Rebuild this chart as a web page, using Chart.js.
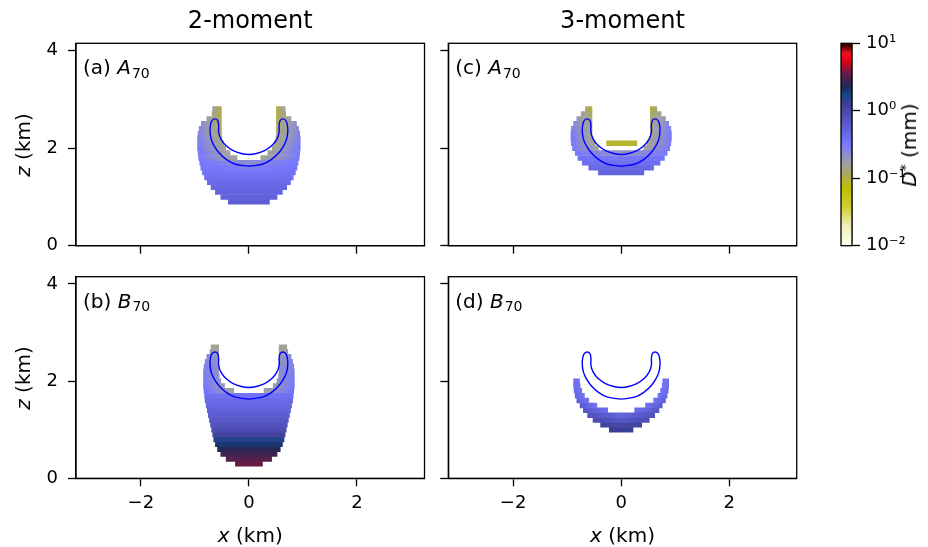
<!DOCTYPE html>
<html><head><meta charset="utf-8">
<script src="https://cdn.jsdelivr.net/npm/chart.js@4.4.0/dist/chart.umd.min.js"></script>
<style>
html,body{margin:0;padding:0;background:#fff;}
#wrap{position:relative;width:928px;height:547px;overflow:hidden;font-family:'DejaVu Sans',sans-serif;color:#000;background:#fff;}
canvas{position:absolute;left:0;top:0;}
.lbl{position:absolute;white-space:nowrap;line-height:1;}
.sub{font-size:70%;position:relative;top:0.25em;margin-left:1px;}
.sup{font-size:70%;position:relative;top:-0.45em;}
</style></head><body>
<div id="wrap">
<canvas id="ca" width="928" height="547"></canvas>
<canvas id="cb" width="928" height="547"></canvas>
<canvas id="cc" width="928" height="547"></canvas>
<canvas id="cd" width="928" height="547"></canvas>
<canvas id="ccb" width="928" height="547"></canvas>
<div class="lbl" style="font-size:24px;left:250.25px;top:7.7px;transform:translateX(-50%)">2-moment</div>
<div class="lbl" style="font-size:24px;left:622.5px;top:7.7px;transform:translateX(-50%)">3-moment</div>
<div class="lbl" style="font-size:20px;left:83px;top:57.1px">(a) <i>A</i><span class="sub">70</span></div>
<div class="lbl" style="font-size:20px;left:455.3px;top:57.1px">(c) <i>A</i><span class="sub">70</span></div>
<div class="lbl" style="font-size:20px;left:83px;top:290.5px">(b) <i>B</i><span class="sub">70</span></div>
<div class="lbl" style="font-size:20px;left:455.3px;top:290.5px">(d) <i>B</i><span class="sub">70</span></div>
<div class="lbl" style="font-size:20px;left:250.25px;top:525.1px;transform:translateX(-50%)"><i>x</i> (km)</div>
<div class="lbl" style="font-size:20px;left:622.5px;top:525.1px;transform:translateX(-50%)"><i>x</i> (km)</div>
<div class="lbl" style="font-size:20px;left:22.6px;top:144.5px;transform:translate(-50%,-50%) rotate(-90deg)"><i>z</i> (km)</div>
<div class="lbl" style="font-size:20px;left:22.6px;top:377.5px;transform:translate(-50%,-50%) rotate(-90deg)"><i>z</i> (km)</div>
<div class="lbl" style="font-size:20px;left:909px;top:144.5px;transform:translate(-50%,-50%) rotate(-90deg)"><i>D</i><span class="sup">*</span> (mm)</div>
</div>
<script>
// ---------------- data ----------------
const xTicks = [-2, 0, 2];
const zTicks = [0, 2, 4];
const cbTicks = [0.01, 0.1, 1, 10];
const cbTickLabels = ['10\u207B\u00B2', '10\u207B\u00B9', '10\u2070', '10\u00B9'];

// Panel (a): rows of z (km), outer / inner half-widths (km), log10 D* at outer and inner edge (centre for full rows)
const zRowsA  = [0.9,1.0,1.1,1.2,1.3,1.4,1.5,1.6,1.7,1.8,1.9,2.0,2.1,2.2,2.3,2.4,2.5,2.6,2.7,2.8];
const outerA  = [0.38,0.52,0.62,0.70,0.77,0.82,0.86,0.89,0.91,0.93,0.94,0.95,0.95,0.95,0.94,0.92,0.88,0.78,0.68,0.67];
const innerA  = [0,0,0,0,0,0,0,0,0,0.22,0.35,0.43,0.47,0.50,0.51,0.51,0.51,0.51,0.51,0.51];
const dOutA   = [-0.25,-0.28,-0.3,-0.33,-0.36,-0.4,-0.43,-0.46,-0.48,-0.5,-0.5,-0.5,-0.52,-0.55,-0.58,-0.6,-0.65,-0.75,-0.8,-0.8];
const dInA    = [-0.25,-0.28,-0.3,-0.33,-0.36,-0.42,-0.47,-0.55,-0.65,-0.82,-0.82,-0.85,-0.85,-0.88,-0.9,-0.92,-0.95,-0.98,-1.0,-1.0];

// Panel (b)
const zRowsB  = [0.3,0.4,0.5,0.6,0.7,0.8,0.9,1.0,1.1,1.2,1.3,1.4,1.5,1.6,1.7,1.8,1.9,2.0,2.1,2.2,2.3,2.4,2.5,2.6,2.7];
const outerB  = [0.25,0.42,0.52,0.58,0.62,0.65,0.67,0.69,0.71,0.73,0.75,0.77,0.79,0.81,0.82,0.83,0.84,0.84,0.84,0.84,0.83,0.81,0.78,0.72,0.70];
const innerB  = [0,0,0,0,0,0,0,0,0,0,0,0,0,0,0,0.28,0.45,0.52,0.55,0.56,0.56,0.56,0.56,0.56,0.56];
const dOutB   = [0.55,0.5,0.45,0.38,0.3,0.2,0.05,-0.05,-0.12,-0.18,-0.23,-0.28,-0.32,-0.36,-0.4,-0.45,-0.48,-0.5,-0.52,-0.55,-0.57,-0.6,-0.62,-0.75,-0.8];
const dInB    = [0.55,0.5,0.45,0.38,0.3,0.2,0.05,-0.05,-0.12,-0.18,-0.23,-0.28,-0.32,-0.38,-0.45,-0.8,-0.75,-0.7,-0.68,-0.66,-0.66,-0.68,-0.7,-0.8,-0.82];

// Panel (c)
const zRowsC  = [1.5,1.6,1.7,1.8,1.9,2.0,2.1,2.2,2.3,2.4,2.5,2.6,2.7,2.8];
const outerC  = [0.42,0.6,0.72,0.8,0.85,0.9,0.92,0.93,0.93,0.92,0.88,0.82,0.74,0.66];
const innerC  = [0,0,0,0,0,0.42,0.48,0.52,0.54,0.54,0.54,0.54,0.54,0.54];
const dOutC   = [-0.3,-0.35,-0.4,-0.45,-0.5,-0.5,-0.5,-0.5,-0.5,-0.55,-0.6,-0.7,-0.8,-0.9];
const dInC    = [-0.3,-0.35,-0.42,-0.5,-0.7,-0.8,-0.85,-0.85,-0.85,-0.85,-0.88,-0.9,-0.92,-1.0];
const islandZC  = [2.1];
const islandX0C = [-0.27];
const islandX1C = [0.29];
const islandDC  = [-1.05];

// Panel (d)
const zRowsD  = [1.0,1.1,1.2,1.3,1.4,1.5,1.6,1.7,1.8,1.9,2.0];
const outerD  = [0.22,0.38,0.52,0.62,0.70,0.76,0.82,0.85,0.87,0.88,0.88];
const innerD  = [0,0,0,0,0.25,0.45,0.6,0.68,0.73,0.76,0.77];
const dOutD   = [0.1,0.05,-0.05,-0.1,-0.15,-0.2,-0.25,-0.3,-0.35,-0.4,-0.4];
const dInD    = [0.12,0.0,-0.15,-0.3,-0.4,-0.45,-0.45,-0.45,-0.45,-0.45,-0.45];

// Reference contour (closed loop), same in all panels
const contourX = [0,-0.25,-0.42,-0.55,-0.64,-0.70,-0.72,-0.71,-0.68,-0.63,-0.58,-0.56,-0.56,-0.52,-0.43,-0.29,-0.14,0,0.14,0.29,0.43,0.52,0.56,0.56,0.58,0.63,0.68,0.71,0.72,0.70,0.64,0.55,0.42,0.25,0];
const contourZ = [1.63,1.67,1.77,1.90,2.04,2.19,2.35,2.49,2.57,2.60,2.57,2.47,2.33,2.19,2.06,1.95,1.89,1.87,1.89,1.95,2.06,2.19,2.33,2.47,2.57,2.60,2.57,2.49,2.35,2.19,2.04,1.90,1.77,1.67,1.63];

// colormap (log10 D*) -> colour
const cmapLevels = [-2.0,-1.7,-1.4,-1.15,-0.95,-0.78,-0.5,-0.2,0.1,0.25,0.35,0.55,0.75,0.85,0.95,1.0];
const cmapColors = [[255,255,240],[240,240,180],[205,205,40],[190,190,0],[170,170,90],[160,160,165],[120,120,255],[90,90,205],[62,62,150],[20,70,130],[30,40,90],[100,30,70],[230,0,20],[240,20,30],[90,0,0],[40,0,0]];

// ---------------- helpers ----------------
function cmapRGB(v){
  const n = cmapLevels.length;
  if (v <= cmapLevels[0]) return cmapColors[0];
  if (v >= cmapLevels[n-1]) return cmapColors[n-1];
  for (let i = 1; i < n; i++) {
    if (v <= cmapLevels[i]) {
      const t = (v - cmapLevels[i-1]) / (cmapLevels[i] - cmapLevels[i-1]);
      const a = cmapColors[i-1], b = cmapColors[i];
      return [0,1,2].map(k => Math.round(a[k] + (b[k]-a[k]) * t));
    }
  }
}
function cmap(v){ const c = cmapRGB(v); return 'rgb(' + c[0] + ',' + c[1] + ',' + c[2] + ')'; }

function gradFill(ctx){
  if (ctx.type !== 'data') return 'rgba(0,0,0,0)';
  const chart = ctx.chart, xs = chart.scales.x, r = ctx.raw;
  if (!xs || !r) return cmap(-0.5);
  const p0 = xs.getPixelForValue(r.x[0]), p1 = xs.getPixelForValue(r.x[1]);
  if (!isFinite(p0) || !isFinite(p1) || Math.abs(p1 - p0) < 0.01) return cmap(r.c0);
  const g = chart.ctx.createLinearGradient(p0, 0, p1, 0);
  const N = 12;
  for (let k = 0; k <= N; k++) {
    const t = k / N;
    const f = r.sym ? 1 - Math.abs(2 * t - 1) : t;
    g.addColorStop(t, cmap(r.c0 + (r.c1 - r.c0) * f));
  }
  return g;
}

// full rows -> one symmetric bar; rows with a hole -> two bars
function rowsToBars(z, ro, ri, dOut, dIn){
  const left = [], right = [];
  z.forEach((zz, i) => {
    if (ri[i] > 0) {
      left.push({y: zz, x: [-ro[i], -ri[i]], c0: dOut[i], c1: dIn[i]});
      right.push({y: zz, x: [ri[i], ro[i]], c0: dIn[i], c1: dOut[i]});
    } else {
      left.push({y: zz, x: [-ro[i], ro[i]], c0: dOut[i], c1: dIn[i], sym: true});
    }
  });
  return [left, right];
}

const barStyle = {type: 'bar', indexAxis: 'y', grouped: false, barPercentage: 1, categoryPercentage: 1,
  borderWidth: 0, backgroundColor: gradFill};

const framePlugin = {
  id: 'frame',
  afterDraw(chart){
    const {ctx, chartArea: a} = chart;
    ctx.save(); ctx.strokeStyle = '#000'; ctx.lineWidth = 1.3;
    ctx.strokeRect(a.left, a.top, a.right - a.left, a.bottom - a.top);
    ctx.restore();
  }
};

const W = 928, H = 547, YW = 60, XH = 50;
const fmt = v => String(v).replace('-', '\u2212');

function makePanel(id, area, bars, extra, showX, showY){
  const [left, right] = bars;
  const datasets = [
    {type: 'line', data: contourX.map((x, i) => ({x: x, y: contourZ[i]})), borderColor: '#0000ff',
     borderWidth: 1.4, pointRadius: 0, tension: 0.4, fill: false},
    Object.assign({data: left}, barStyle),
    Object.assign({data: right}, barStyle)
  ];
  if (extra) datasets.push(Object.assign({data: extra}, barStyle));
  new Chart(document.getElementById(id), {
    type: 'bar',
    data: {datasets},
    options: {
      responsive: false, animation: false, events: [], devicePixelRatio: 1,
      indexAxis: 'y',
      layout: {padding: {left: area.l - YW, right: W - area.r, top: area.t, bottom: H - area.b - XH}},
      plugins: {legend: {display: false}, tooltip: {enabled: false}, title: {display: false}},
      scales: {
        x: {type: 'linear', position: 'bottom', min: -3.2, max: 3.25, offset: false,
            afterFit: s => { s.height = XH; },
            afterBuildTicks: s => { s.ticks = xTicks.map(v => ({value: v})); },
            grid: {drawOnChartArea: false, drawTicks: true, tickLength: 8, tickColor: '#000', tickWidth: 1.3, offset: false},
            border: {display: true, color: '#000', width: 1.3},
            ticks: {color: '#000', font: {family: 'DejaVu Sans', size: 18}, padding: 6, maxRotation: 0, autoSkip: false,
                    callback: v => showX ? fmt(v) : ''}},
        y: {type: 'linear', position: 'left', min: 0, max: 4.15, offset: false,
            afterFit: s => { s.width = YW; },
            afterBuildTicks: s => { s.ticks = zTicks.map(v => ({value: v})); },
            grid: {drawOnChartArea: false, drawTicks: true, tickLength: 8, tickColor: '#000', tickWidth: 1.3, offset: false},
            border: {display: true, color: '#000', width: 1.3},
            ticks: {color: '#000', font: {family: 'DejaVu Sans', size: 18}, padding: 10, autoSkip: false,
                    callback: v => showY ? fmt(v) : ''}}
      }
    },
    plugins: [framePlugin]
  });
}

const areaA = {l: 76, r: 424.5, t: 43.3, b: 245.7};
const areaC = {l: 448.3, r: 796.7, t: 43.3, b: 245.7};
const areaB = {l: 76, r: 424.5, t: 276.7, b: 478.3};
const areaD = {l: 448.3, r: 796.7, t: 276.7, b: 478.3};

makePanel('ca', areaA, rowsToBars(zRowsA, outerA, innerA, dOutA, dInA), null, false, true);
makePanel('cb', areaB, rowsToBars(zRowsB, outerB, innerB, dOutB, dInB), null, true, true);
const islandC = islandZC.map((z, i) => ({y: z, x: [islandX0C[i], islandX1C[i]], c0: islandDC[i], c1: islandDC[i]}));
makePanel('cc', areaC, rowsToBars(zRowsC, outerC, innerC, dOutC, dInC), islandC, false, false);
makePanel('cd', areaD, rowsToBars(zRowsD, outerD, innerD, dOutD, dInD), null, true, false);

// colorbar
const cbArea = {l: 841, r: 852, t: 43.3, b: 245.7};
const CBW = 70;
new Chart(document.getElementById('ccb'), {
  type: 'bar',
  data: {labels: ['D'], datasets: [{data: [[cbTicks[0], cbTicks[cbTicks.length - 1]]], barPercentage: 1, categoryPercentage: 1,
    borderWidth: 0, inflateAmount: 0,
    backgroundColor: ctx => {
      const chart = ctx.chart, ys = chart.scales.y;
      if (!ys || !chart.chartArea) return cmap(-0.5);
      const p0 = ys.getPixelForValue(cbTicks[0]), p1 = ys.getPixelForValue(cbTicks[cbTicks.length - 1]);
      if (!isFinite(p0) || !isFinite(p1)) return cmap(-0.5);
      const g = chart.ctx.createLinearGradient(0, p0, 0, p1);
      cmapLevels.forEach((lv, i) => g.addColorStop((lv + 2) / 3, cmap(lv)));
      return g;
    }}]},
  options: {
    responsive: false, animation: false, events: [], devicePixelRatio: 1,
    layout: {padding: {left: cbArea.l, right: W - cbArea.r - CBW, top: cbArea.t, bottom: H - cbArea.b}},
    plugins: {legend: {display: false}, tooltip: {enabled: false}},
    scales: {
      x: {type: 'category', display: false, offset: true},
      y: {type: 'logarithmic', position: 'right', min: 0.01, max: 10,
          afterFit: s => { s.width = CBW; },
          afterBuildTicks: s => { s.ticks = cbTicks.map(v => ({value: v})); },
          grid: {drawOnChartArea: false, drawTicks: true, tickLength: 8, tickColor: '#000', tickWidth: 1.3},
          border: {display: true, color: '#000', width: 1.3},
          ticks: {color: '#000', font: {family: 'DejaVu Sans', size: 18}, padding: 6, autoSkip: false,
                  callback: (v, i) => cbTickLabels[cbTicks.indexOf(v)] !== undefined ? cbTickLabels[cbTicks.indexOf(v)] : ''}}
    }
  },
  plugins: [framePlugin]
});
</script>
</body></html>
